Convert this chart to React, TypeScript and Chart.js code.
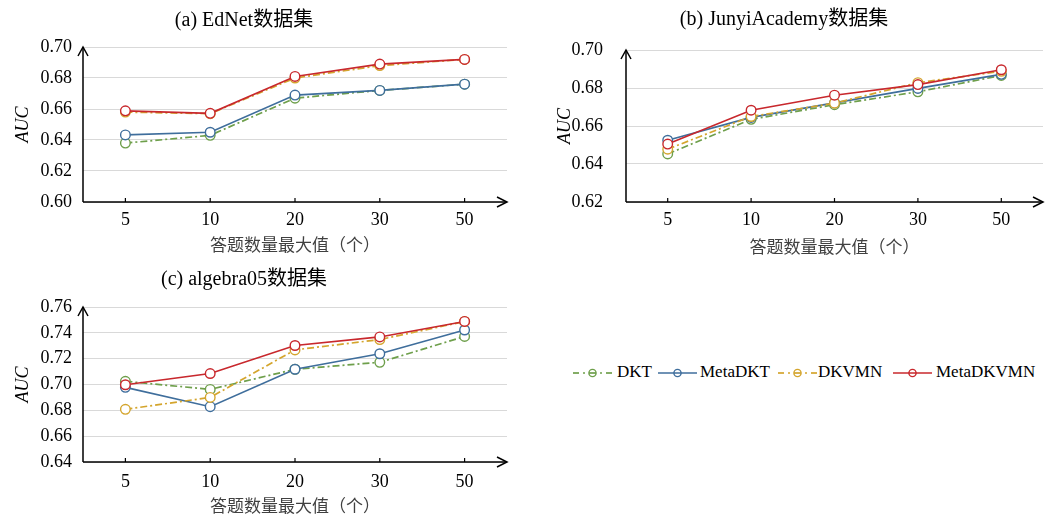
import React, { useEffect, useRef } from "react";
import { Chart, registerables } from "chart.js";

Chart.register(...registerables);

// ---------- data ----------
const categories = ["5", "10", "20", "30", "50"];
const seriesNames = ["DKT", "MetaDKT", "DKVMN", "MetaDKVMN"];

const ednetDKT = [0.638, 0.643, 0.667, 0.672, 0.676];
const ednetMetaDKT = [0.6433, 0.645, 0.669, 0.672, 0.676];
const ednetDKVMN = [0.658, 0.657, 0.680, 0.688, 0.692];
const ednetMetaDKVMN = [0.6588, 0.6572, 0.681, 0.689, 0.692];

const junyiDKT = [0.6453, 0.6635, 0.6712, 0.678, 0.6866];
const junyiMetaDKT = [0.6525, 0.6645, 0.6722, 0.6798, 0.6872];
const junyiDKVMN = [0.6478, 0.665, 0.672, 0.6828, 0.6888];
const junyiMetaDKVMN = [0.6505, 0.6683, 0.6762, 0.6818, 0.6896];

const algebraDKT = [0.7025, 0.6962, 0.7118, 0.7172, 0.7372];
const algebraMetaDKT = [0.6978, 0.6828, 0.7118, 0.7238, 0.7422];
const algebraDKVMN = [0.6808, 0.690, 0.7268, 0.7348, 0.7488];
const algebraMetaDKVMN = [0.6998, 0.7085, 0.7302, 0.7368, 0.7488];

const xAxisTitle = "答题数量最大值（个）";
const yAxisTitle = "AUC";

// ---------- styles ----------
const serif = "'Liberation Serif', 'Noto Sans CJK SC', serif";
const seriesColors = ["#6E9F4B", "#3F6E9C", "#D4A52D", "#C8282D"];
const seriesDash: number[][] = [[7, 3, 2, 3], [], [7, 3, 2, 3], []];

const axesPlugin = {
  id: "axesArrows",
  beforeDatasetsDraw(chart: any) {
    const { ctx, chartArea } = chart;
    const { left, right, top, bottom } = chartArea;
    ctx.save();
    ctx.strokeStyle = "#000";
    ctx.lineWidth = 1.5;
    ctx.setLineDash([]);
    ctx.beginPath();
    ctx.moveTo(left, bottom);
    ctx.lineTo(left, top);
    ctx.moveTo(left, bottom);
    ctx.lineTo(right, bottom);
    ctx.stroke();
    ctx.beginPath();
    ctx.moveTo(left - 5, top + 9);
    ctx.lineTo(left, top);
    ctx.lineTo(left + 5, top + 9);
    ctx.moveTo(right - 10, bottom - 5);
    ctx.lineTo(right, bottom);
    ctx.lineTo(right - 10, bottom + 5);
    ctx.stroke();
    const xs = chart.scales.x;
    ctx.lineWidth = 1.2;
    ctx.beginPath();
    for (let i = 0; i < xs.ticks.length; i++) {
      const px = xs.getPixelForTick(i);
      ctx.moveTo(px, bottom);
      ctx.lineTo(px, bottom - 4);
    }
    ctx.stroke();
    ctx.restore();
  },
};

type PanelProps = {
  left: number;
  top: number;
  width: number;
  height: number;
  title: string;
  values: number[][];
  yMin: number;
  yMax: number;
  padRight: number;
  titleTop: number;
  titleBottom: number;
  yWidth: number;
  yTickPad: number;
  yTitlePad: number;
  xHeight: number;
  xTickPad: number;
  xTitleBottom: number;
};

function Panel(p: PanelProps) {
  const ref = useRef<HTMLCanvasElement>(null);
  useEffect(() => {
    const chart = new Chart(ref.current as HTMLCanvasElement, {
      type: "line",
      data: {
        labels: categories,
        datasets: seriesNames.map((name, i) => ({
          label: name,
          data: p.values[i],
          borderColor: seriesColors[i],
          borderWidth: 1.7,
          borderDash: seriesDash[i],
          pointRadius: 4.8,
          pointBorderWidth: 1.4,
          pointBackgroundColor: "#ffffff",
          pointBorderColor: seriesColors[i],
          order: 3 - i,
          tension: 0,
          fill: false,
        })),
      },
      options: {
        responsive: false,
        animation: false,
        layout: { padding: { left: 0, right: p.padRight, top: 0, bottom: 0 } },
        plugins: {
          legend: { display: false },
          tooltip: { enabled: false },
          title: {
            display: true,
            text: p.title,
            color: "#000",
            font: { family: serif, size: 20, weight: "normal" },
            padding: { top: p.titleTop, bottom: p.titleBottom },
          },
        },
        scales: {
          x: {
            type: "category",
            offset: true,
            grid: { display: false, drawTicks: false },
            border: { display: false },
            ticks: {
              color: "#000",
              font: { family: serif, size: 18 },
              padding: p.xTickPad,
              maxRotation: 0,
              autoSkip: false,
            },
            title: {
              display: true,
              text: xAxisTitle,
              color: "#404040",
              font: { family: serif, size: 17 },
              padding: { top: 0, bottom: p.xTitleBottom },
            },
            afterFit: (s: any) => {
              s.height = p.xHeight;
            },
          },
          y: {
            min: p.yMin,
            max: p.yMax,
            grid: { color: "#d9d9d9", lineWidth: 1, drawTicks: false },
            border: { display: false },
            ticks: {
              stepSize: 0.02,
              color: "#000",
              font: { family: serif, size: 18 },
              padding: p.yTickPad,
              callback: (v: any) => Number(v).toFixed(2),
            },
            title: {
              display: true,
              text: yAxisTitle,
              color: "#000",
              font: { family: serif, size: 18, style: "italic" },
              padding: { top: p.yTitlePad, bottom: 0 },
            },
            afterFit: (s: any) => {
              s.width = p.yWidth;
            },
          },
        },
      } as any,
      plugins: [axesPlugin],
    });
    return () => chart.destroy();
  }, []);
  return (
    <div style={{ position: "absolute", left: p.left, top: p.top, width: p.width, height: p.height }}>
      <canvas ref={ref} width={p.width} height={p.height} style={{ width: p.width, height: p.height, display: "block" }} />
    </div>
  );
}

function LegendSymbol({ color, dashed }: { color: string; dashed: boolean }) {
  return (
    <svg width={40} height={14} style={{ display: "block" }}>
      {dashed ? (
        <g stroke={color} strokeWidth={1.7}>
          <line x1={0} y1={7} x2={6} y2={7} />
          <line x1={10} y1={7} x2={12} y2={7} />
          <line x1={16} y1={7} x2={23} y2={7} />
          <line x1={27} y1={7} x2={29} y2={7} />
          <line x1={33} y1={7} x2={39} y2={7} />
        </g>
      ) : (
        <line x1={0} y1={7} x2={39} y2={7} stroke={color} strokeWidth={1.7} />
      )}
      <circle cx={19.5} cy={7} r={3.6} fill="none" stroke={color} strokeWidth={1.4} />
    </svg>
  );
}

const legendSymbolX = [573, 658, 778, 893];
const legendTextX = [617, 700, 818, 936];

function Legend() {
  return (
    <>
      {seriesNames.map((name, i) => (
        <React.Fragment key={name}>
          <div style={{ position: "absolute", left: legendSymbolX[i], top: 366 }}>
            <LegendSymbol color={seriesColors[i]} dashed={seriesDash[i].length > 0} />
          </div>
          <div
            style={{
              position: "absolute",
              left: legendTextX[i],
              top: 361,
              fontFamily: serif,
              fontSize: 17,
              lineHeight: "22px",
              color: "#000",
              whiteSpace: "nowrap",
            }}
          >
            {name}
          </div>
        </React.Fragment>
      ))}
    </>
  );
}

export default function App() {
  return (
    <div style={{ position: "absolute", left: 0, top: 0, width: 1052, height: 518, background: "#fff", overflow: "hidden" }}>
      <Panel
        left={-19}
        top={0}
        width={539}
        height={260}
        title="(a) EdNet数据集"
        values={[ednetDKT, ednetMetaDKT, ednetDKVMN, ednetMetaDKVMN]}
        yMin={0.6}
        yMax={0.7}
        padRight={13}
        titleTop={9}
        titleBottom={14}
        yWidth={102}
        yTickPad={11}
        yTitlePad={31}
        xHeight={58}
        xTickPad={7}
        xTitleBottom={3}
      />
      <Panel
        left={525}
        top={0}
        width={527}
        height={260}
        title="(b) JunyiAcademy数据集"
        values={[junyiDKT, junyiMetaDKT, junyiDKVMN, junyiMetaDKVMN]}
        yMin={0.62}
        yMax={0.7}
        padRight={9}
        titleTop={8}
        titleBottom={18}
        yWidth={101}
        yTickPad={23}
        yTitlePad={29}
        xHeight={58}
        xTickPad={7}
        xTitleBottom={1}
      />
      <Panel
        left={-19}
        top={260}
        width={539}
        height={258}
        title="(c) algebra05数据集"
        values={[algebraDKT, algebraMetaDKT, algebraDKVMN, algebraMetaDKVMN]}
        yMin={0.64}
        yMax={0.76}
        padRight={13}
        titleTop={8}
        titleBottom={15}
        yWidth={102}
        yTickPad={11}
        yTitlePad={31}
        xHeight={56}
        xTickPad={9}
        xTitleBottom={0}
      />
      <Legend />
    </div>
  );
}
